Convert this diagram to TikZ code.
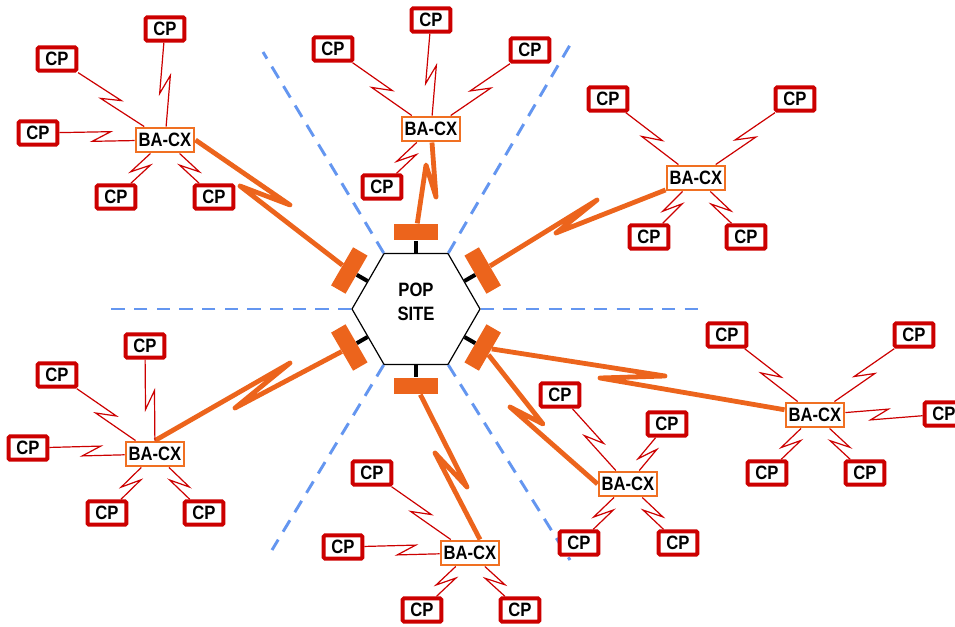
\documentclass[tikz,border=0pt]{standalone}
\usepackage{fontspec}
\usepackage{xcolor}
\usepackage{tikz}
\usetikzlibrary{calc,shapes.geometric}
\newfontfamily\diafont{Liberation Sans}[FakeStretch=0.86]
\definecolor{cpRed}{RGB}{204,0,0}
\definecolor{baOrange}{RGB}{240,112,34}
\definecolor{trunkOrange}{RGB}{236,100,28}
\definecolor{zoneBlue}{RGB}{100,150,240}
\tikzset{
  cp/.style={rectangle, draw=cpRed, line width=3pt, fill=white, rounded corners=1pt, minimum width=29pt, minimum height=17.5pt, inner sep=0pt, font=\diafont\bfseries\fontsize{14.5}{16}\selectfont},
  ba/.style={rectangle, draw=baOrange, line width=1.7pt, fill=white, minimum width=44pt, minimum height=18.5pt, inner sep=0pt, font=\diafont\bfseries\fontsize{14.5}{16}\selectfont},
  site/.style={regular polygon, regular polygon sides=6, draw=black, line width=0.9pt, fill=white, minimum size=96pt, inner sep=0pt},
  sitetext/.style={align=center, inner sep=0pt, font=\diafont\bfseries\fontsize{14.5}{18}\selectfont},
  port/.style={rectangle, fill=trunkOrange, minimum width=33pt, minimum height=12.5pt, inner sep=0pt},
  stub/.style={line width=3pt, draw=black},
  trunk/.style={line width=3.6pt, draw=trunkOrange, line join=round},
  link/.style={line width=0.9pt, draw=cpRed},
  zone/.style={line width=2.2pt, draw=zoneBlue, dash pattern=on 10pt off 7pt},
  bolt/.style={to path={-- ($(\tikztostart)!0.5!(\tikztotarget)!6.75pt!(\tikztotarget)!4pt!#1:(\tikztotarget)$) -- ($(\tikztostart)!0.5!(\tikztotarget)!6.75pt!(\tikztostart)!4pt!#1:(\tikztostart)$) -- (\tikztotarget)}}
}
\begin{document}
\begin{tikzpicture}[x=0.75pt, y=0.75pt]
  \clip (0,0) rectangle (955,626);
  \node[site] (hex) at (416,317) {};
  \node[sitetext] (pop) at ($(hex.center)+(0,7)$) {POP\\SITE};
  \coordinate (zw) at (110,317);
  \coordinate (ze) at (700,317);
  \coordinate (znw) at (263,574);
  \coordinate (zne) at (570,581);
  \coordinate (zsw) at (272,76);
  \coordinate (zse) at (570,66);
  \draw[zone] (hex.180) -- (zw);
  \draw[zone] (hex.0) -- (ze);
  \draw[zone] (hex.120) -- (znw);
  \draw[zone] (hex.60) -- (zne);
  \draw[zone] (hex.240) -- (zsw);
  \draw[zone] (hex.300) -- (zse);

  \node[port] (pn) at ($(hex.center)+(90:77)$) {};
  \node[port, rotate=-60] (pne) at ($(hex.center)+(30:77)$) {};
  \node[port, rotate=60] (pse) at ($(hex.center)+(-30:77)$) {};
  \node[port] (ps) at ($(hex.center)+(-90:77)$) {};
  \node[port, rotate=-60] (psw) at ($(hex.center)+(210:77)$) {};
  \node[port, rotate=60] (pnw) at ($(hex.center)+(150:77)$) {};
  \draw[stub] (hex.90) -- (pn);
  \draw[stub] (hex.30) -- (pne);
  \draw[stub] (hex.-30) -- (pse);
  \draw[stub] (hex.-90) -- (ps);
  \draw[stub] (hex.210) -- (psw);
  \draw[stub] (hex.150) -- (pnw);

  \node[ba] (bnw) at (165,486) {BA-CX};
  \node[ba] (bn) at (431,497) {BA-CX};
  \node[ba] (bne) at (696,448) {BA-CX};
  \node[ba] (bsw) at (155,172) {BA-CX};
  \node[ba] (bs) at (470,73) {BA-CX};
  \node[ba] (bse) at (628,142) {BA-CX};
  \node[ba] (be) at (815,211) {BA-CX};

  \node[cp] (nw1) at (165,597) {CP};
  \node[cp] (nw2) at (57,567) {CP};
  \node[cp] (nw3) at (38,493) {CP};
  \node[cp] (nw4) at (116,429) {CP};
  \node[cp] (nw5) at (214,429) {CP};
  \node[cp] (n1) at (431,606) {CP};
  \node[cp] (n2) at (333,577) {CP};
  \node[cp] (n3) at (530,576) {CP};
  \node[cp] (n4) at (382,439) {CP};
  \node[cp] (ne1) at (608,527) {CP};
  \node[cp] (ne2) at (795,527) {CP};
  \node[cp] (ne3) at (649,389) {CP};
  \node[cp] (ne4) at (746,389) {CP};
  \node[cp] (sw1) at (145,280) {CP};
  \node[cp] (sw2) at (57,251) {CP};
  \node[cp] (sw3) at (28,178) {CP};
  \node[cp] (sw4) at (107,113) {CP};
  \node[cp] (sw5) at (204,113) {CP};
  \node[cp] (s1) at (372,153) {CP};
  \node[cp] (s2) at (343,79) {CP};
  \node[cp] (s3) at (422,16) {CP};
  \node[cp] (s4) at (520,16) {CP};
  \node[cp] (se1) at (560,231) {CP};
  \node[cp] (se2) at (667,202) {CP};
  \node[cp] (se3) at (579,83) {CP};
  \node[cp] (se4) at (678,83) {CP};
  \node[cp] (e1) at (727,291) {CP};
  \node[cp] (e2) at (914,291) {CP};
  \node[cp] (e3) at (944,212) {CP};
  \node[cp] (e4) at (767,153) {CP};
  \node[cp] (e5) at (865,153) {CP};

  \draw[trunk] (bnw.east) -- (290,421) -- (240,440) -- (pnw);
  \draw[trunk] (bn) -- (436,429) -- (426,461) -- (pn);
  \draw[trunk] (bne) -- (556,393) -- (597,426) -- (pne);
  \draw[trunk] (bsw.north) -- (290,263) -- (235,218) -- (psw);
  \draw[trunk] (ps) -- (467,139) -- (435,173) -- ($(bs.north)+(10,0)$);
  \draw[trunk] (pse) -- (543,202) -- (510,219) -- (bse.west);
  \draw[trunk] (pse) -- (665,250) -- (600,248) -- (be);

  \draw[link] (bnw) to[bolt=-90] (nw1);
  \draw[link] (bnw) to[bolt=90] (nw2);
  \draw[link] (bnw) to[bolt=90] (nw3);
  \draw[link] (bnw) to[bolt=-90] (nw4);
  \draw[link] (bnw) to[bolt=90] (nw5);
  \draw[link] (bn) to[bolt=-90] (n1);
  \draw[link] (bn) to[bolt=90] (n2);
  \draw[link] (bn) to[bolt=-90] (n3);
  \draw[link] (bn) to[bolt=-90] (n4);
  \draw[link] (bne) to[bolt=90] (ne1);
  \draw[link] (bne) to[bolt=-90] (ne2);
  \draw[link] (bne) to[bolt=-90] (ne3);
  \draw[link] (bne) to[bolt=90] (ne4);
  \draw[link] (bsw) to[bolt=-90] (sw1);
  \draw[link] (bsw) to[bolt=90] (sw2);
  \draw[link] (bsw) to[bolt=90] (sw3);
  \draw[link] (bsw) to[bolt=-90] (sw4);
  \draw[link] (bsw) to[bolt=90] (sw5);
  \draw[link] (bs) to[bolt=90] (s1);
  \draw[link] (bs) to[bolt=90] (s2);
  \draw[link] (bs) to[bolt=-90] (s3);
  \draw[link] (bs) to[bolt=90] (s4);
  \draw[link] (bse) to[bolt=90] (se1);
  \draw[link] (bse) to[bolt=-90] (se2);
  \draw[link] (bse) to[bolt=-90] (se3);
  \draw[link] (bse) to[bolt=90] (se4);
  \draw[link] (be) to[bolt=90] (e1);
  \draw[link] (be) to[bolt=-90] (e2);
  \draw[link] (be) to[bolt=90] (e3);
  \draw[link] (be) to[bolt=-90] (e4);
  \draw[link] (be) to[bolt=90] (e5);
\end{tikzpicture}
\end{document}
